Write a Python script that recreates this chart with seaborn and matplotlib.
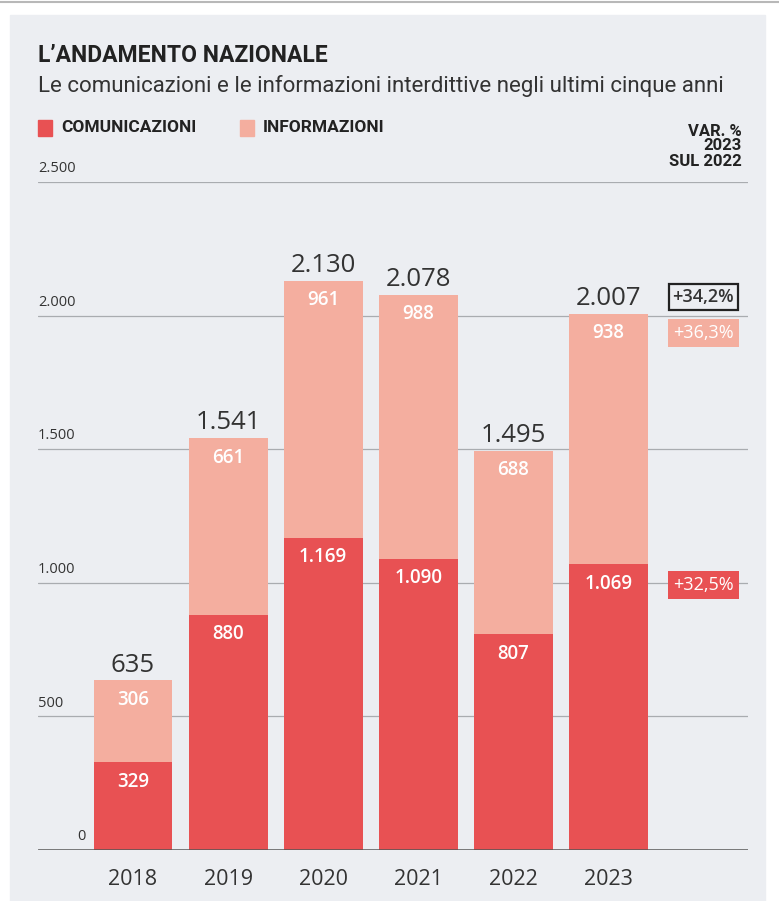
import pandas as pd
import matplotlib.pyplot as plt
import matplotlib.patches as mpatches
import seaborn as sns

years = ["2018", "2019", "2020", "2021", "2022", "2023"]
comunicazioni = [329, 880, 1169, 1090, 807, 1069]
informazioni = [306, 661, 961, 988, 688, 938]
totali = [635, 1541, 2130, 2078, 1495, 2007]
yticks = [0, 500, 1000, 1500, 2000, 2500]
var_labels = ["+34,2%", "+36,3%", "+32,5%"]

RED = "#e85153"
PINK = "#f4ae9f"
BG = "#eceef2"
DARK = "#333333"

def fmt(v):
    return f"{v:,}".replace(",", ".")

df = pd.DataFrame({"anno": years, "com": comunicazioni, "inf": informazioni, "tot": totali})

sns.set_theme(style="white")
plt.rcParams["font.family"] = ["Open Sans", "DejaVu Sans"]
narrow = ["Liberation Sans Narrow", "Roboto", "DejaVu Sans"]

W, H = 779, 901
fig = plt.figure(figsize=(W / 100, H / 100), dpi=100)
fig.patch.set_facecolor("white")
fig.patches.append(mpatches.Rectangle((10 / W, 0), 755 / W, (H - 15) / H,
                                      transform=fig.transFigure, color=BG, zorder=-1))
fig.add_artist(plt.Line2D([0, 1], [1 - 2 / H, 1 - 2 / H], color="#b8b8b8", lw=1.5))

ax = fig.add_axes([38 / W, (H - 850) / H, 710 / W, 668 / H])
ax.set_facecolor("none")
ax.set_zorder(2)

sns.barplot(data=df, x="anno", y="tot", color=PINK, width=0.83, saturation=1,
            linewidth=0, ax=ax, zorder=3)
sns.barplot(data=df, x="anno", y="com", color=RED, width=0.83, saturation=1,
            linewidth=0, ax=ax, zorder=4)

ax.set_xlim(-1, 6.47)
ax.set_ylim(0, 2500)
for v in yticks[1:]:
    ax.axhline(v, color="#a9acb0", lw=0.9, zorder=1)
    ax.text(0, v + 22, fmt(v), transform=ax.get_yaxis_transform(), ha="left", va="bottom",
            fontsize=10.5, color=DARK)
ax.axhline(0, color="#555555", lw=1.8, zorder=5)
ax.text(0.055, 22, "0", transform=ax.get_yaxis_transform(), ha="left", va="bottom",
        fontsize=10.5, color=DARK)

ax.set_yticks([])
ax.set_xlabel("")
ax.set_ylabel("")
ax.tick_params(axis="x", length=0, labelsize=15.5, colors=DARK, pad=14)
for s in ax.spines.values():
    s.set_visible(False)

for i in range(len(years)):
    ax.annotate(fmt(totali[i]), (i, totali[i]), xytext=(0, 2), textcoords="offset points",
                ha="center", va="bottom", fontsize=18.5, color=DARK, zorder=6)
    ax.annotate(fmt(informazioni[i]), (i, totali[i]), xytext=(0, -14), textcoords="offset points",
                ha="center", va="center", fontsize=13.5, color="white", fontweight="semibold", zorder=6)
    ax.annotate(fmt(comunicazioni[i]), (i, comunicazioni[i]), xytext=(0, -14), textcoords="offset points",
                ha="center", va="center", fontsize=13.5, color="white", fontweight="semibold", zorder=6)

# variazioni 2023 sul 2022
ax.text(6, 2070, var_labels[0], ha="center", va="center", fontsize=13, color=DARK, fontweight="semibold",
        bbox=dict(boxstyle="square,pad=0.2", fc=BG, ec="#222222", lw=1.6), zorder=6)
ax.text(6, 1935, var_labels[1], ha="center", va="center", fontsize=13, color="white", fontweight="medium",
        bbox=dict(boxstyle="square,pad=0.27", fc=PINK, ec="none"), zorder=6)
ax.text(6, 992, var_labels[2], ha="center", va="center", fontsize=13, color="white", fontweight="medium",
        bbox=dict(boxstyle="square,pad=0.27", fc=RED, ec="none"), zorder=6)

# header
fig.text(38 / W, 1 - 55 / H, "L\u2019ANDAMENTO NAZIONALE", fontsize=16.5, fontweight="bold",
         family=narrow, color="#222222", va="center")
fig.text(38 / W, 1 - 86 / H, "Le comunicazioni e le informazioni interdittive negli ultimi cinque anni",
         fontsize=16, family=narrow, color=DARK, va="center")
fig.patches.append(mpatches.Rectangle((38 / W, 1 - 136 / H), 14 / W, 16 / H,
                                      transform=fig.transFigure, color=RED))
fig.text(61 / W, 1 - 128 / H, "COMUNICAZIONI", fontsize=12.5, fontweight="bold",
         family=narrow, color="#222222", va="center")
fig.patches.append(mpatches.Rectangle((240 / W, 1 - 136 / H), 14 / W, 16 / H,
                                      transform=fig.transFigure, color=PINK))
fig.text(263 / W, 1 - 128 / H, "INFORMAZIONI", fontsize=12.5, fontweight="bold",
         family=narrow, color="#222222", va="center")
fig.text(742 / W, 1 - 146 / H, "VAR. %\n2023\nSUL 2022", fontsize=12, fontweight="bold",
         family=narrow, color="#222222", va="center", ha="right", linespacing=1.0)

fig.savefig("out.png", dpi=100, facecolor=fig.get_facecolor())
